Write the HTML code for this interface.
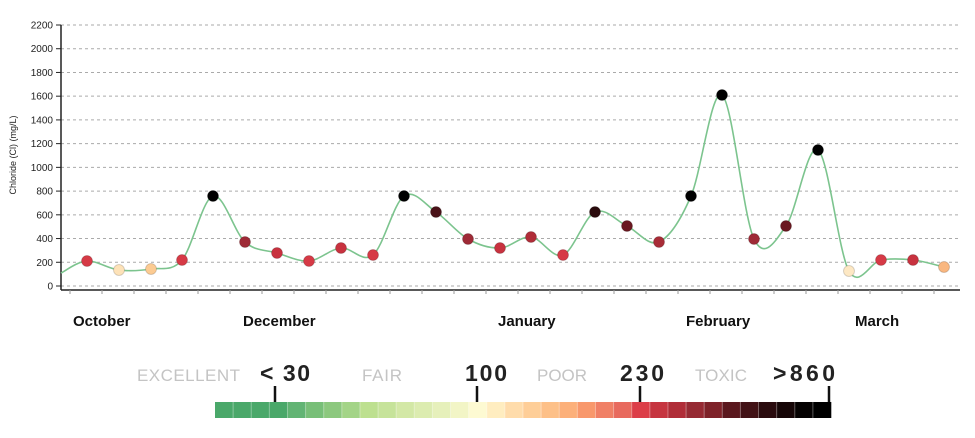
<!DOCTYPE html>
<html><head><meta charset="utf-8"><style>
body{margin:0;background:#fff;width:975px;height:433px;overflow:hidden;font-family:"Liberation Sans",sans-serif}
</style></head><body>
<svg id="s" width="975" height="433" xmlns="http://www.w3.org/2000/svg" font-family="Liberation Sans, sans-serif">
<g id="grid"></g>
<line x1="61" y1="25" x2="61" y2="290" stroke="#222" stroke-width="1.5"/>
<line x1="61" y1="290" x2="960" y2="290" stroke="#222" stroke-width="1.5"/>
<g id="xt"></g>
<text transform="translate(16,155) rotate(-90)" text-anchor="middle" font-size="9" fill="#222">Chloride (Cl) (mg/L)</text>
<path id="ln" fill="none" stroke="#7cc48e" stroke-width="1.6"/>
<g id="pts"></g>
<g font-weight="bold" font-size="15" fill="#111">
<text x="73" y="326">October</text><text x="243" y="326">December</text><text x="498" y="326">January</text><text x="686" y="326">February</text><text x="855" y="326">March</text>
</g>
<g font-size="17" fill="#c4c4c4">
<text x="137" y="381" textLength="103">EXCELLENT</text><text x="362" y="381" textLength="40">FAIR</text><text x="537" y="381" textLength="50">POOR</text><text x="695" y="381" textLength="52">TOXIC</text>
</g>
<g font-size="23" font-weight="bold" fill="#222">
<text x="260" y="381" textLength="50">&lt; 30</text><text x="465" y="381" textLength="42">100</text><text x="620" y="381" textLength="44">230</text><text x="773" y="381" textLength="62">&gt;860</text>
</g>
<g id="cb"></g>
<g stroke="#111" stroke-width="2.5">
<line x1="275" y1="386" x2="275" y2="402"/><line x1="477" y1="386" x2="477" y2="402"/><line x1="640" y1="386" x2="640" y2="402"/><line x1="829" y1="386" x2="829" y2="402"/>
</g>
</svg>
<script>
var NS="http://www.w3.org/2000/svg";function el(t,a,p){var e=document.createElementNS(NS,t);for(var k in a)e.setAttribute(k,a[k]);if(p)document.getElementById(p).appendChild(e);return e;}
for(var v=0;v<=2200;v+=200){var y=286-v*0.11864;
el("line",{x1:61,x2:960,y1:y,y2:y,stroke:"#aaa","stroke-dasharray":"3,3","stroke-width":1},"grid");
el("line",{x1:56,x2:61,y1:y,y2:y,stroke:"#222"},"grid");
var t=el("text",{x:53,y:y+3.5,"text-anchor":"end","font-size":"10",fill:"#222"},"grid");t.textContent=v;}
for(var x=70;x<960;x+=32)el("line",{x1:x,x2:x,y1:290,y2:294,stroke:"#999"},"xt");
var P=[[61,273,null],[87,261,"#d63a46"],[119,270,"#fde2b8"],[151,269,"#fccb92"],[182,260,"#d63a46"],[213,196,"#000"],[245,242,"#9e2a36"],[277,253,"#c8323f"],[309,261,"#d63a46"],[341,248,"#c8323f"],[373,255,"#d63a46"],[404,196,"#000"],[436,212,"#4a1218"],[468,239,"#9e2a36"],[500,248,"#c8323f"],[531,237,"#b02d38"],[563,255,"#d63a46"],[595,212,"#2a0a0c"],[627,226,"#6a1820"],[659,242,"#a82c37"],[691,196,"#000"],[722,95,"#000"],[754,239,"#9e2a36"],[786,226,"#6a1820"],[818,150,"#000"],[849,271,"#fde8c4"],[881,260,"#d63a46"],[913,260,"#c8323f"],[944,267,"#f9b780"]];
var d="M"+P[0][0]+","+P[0][1];
for(var i=0;i<P.length-1;i++){var p0=P[Math.max(0,i-1)],p1=P[i],p2=P[i+1],p3=P[Math.min(P.length-1,i+2)];
d+=" C"+(p1[0]+(p2[0]-p0[0])/6)+","+(p1[1]+(p2[1]-p0[1])/6)+" "+(p2[0]-(p3[0]-p1[0])/6)+","+(p2[1]-(p3[1]-p1[1])/6)+" "+p2[0]+","+p2[1];}
document.getElementById("ln").setAttribute("d",d);
P.forEach(function(p){if(p[2])el("circle",{cx:p[0],cy:p[1],r:5.5,fill:p[2],stroke:"rgba(0,0,0,0.15)"},"pts");});
var C=["#4aa86a","#4aa86a","#4aa86a","#4aa86a","#62b474","#78bf78","#8cc87e","#a3d487","#bde08f","#c6e39a","#d3e8a6","#dcecb0","#e6f0bb","#f2f5c6","#fdfad2","#ffedc0","#ffdcab","#fece98","#fdc088","#fcb07a","#f8986c","#f08066","#e86a5e","#dc3e48","#c63540","#b02d38","#962a33","#7e2229","#5a181e","#421216","#2a0b0e","#160607","#050202","#000"];
var w=616/C.length;C.forEach(function(c,i){el("rect",{x:215+i*w,y:402,width:w+0.3,height:16,fill:c},"cb");
if(i)el("line",{x1:215+i*w,x2:215+i*w,y1:402,y2:418,stroke:"rgba(255,255,255,0.35)"},"cb");});
</script>
</body></html>
